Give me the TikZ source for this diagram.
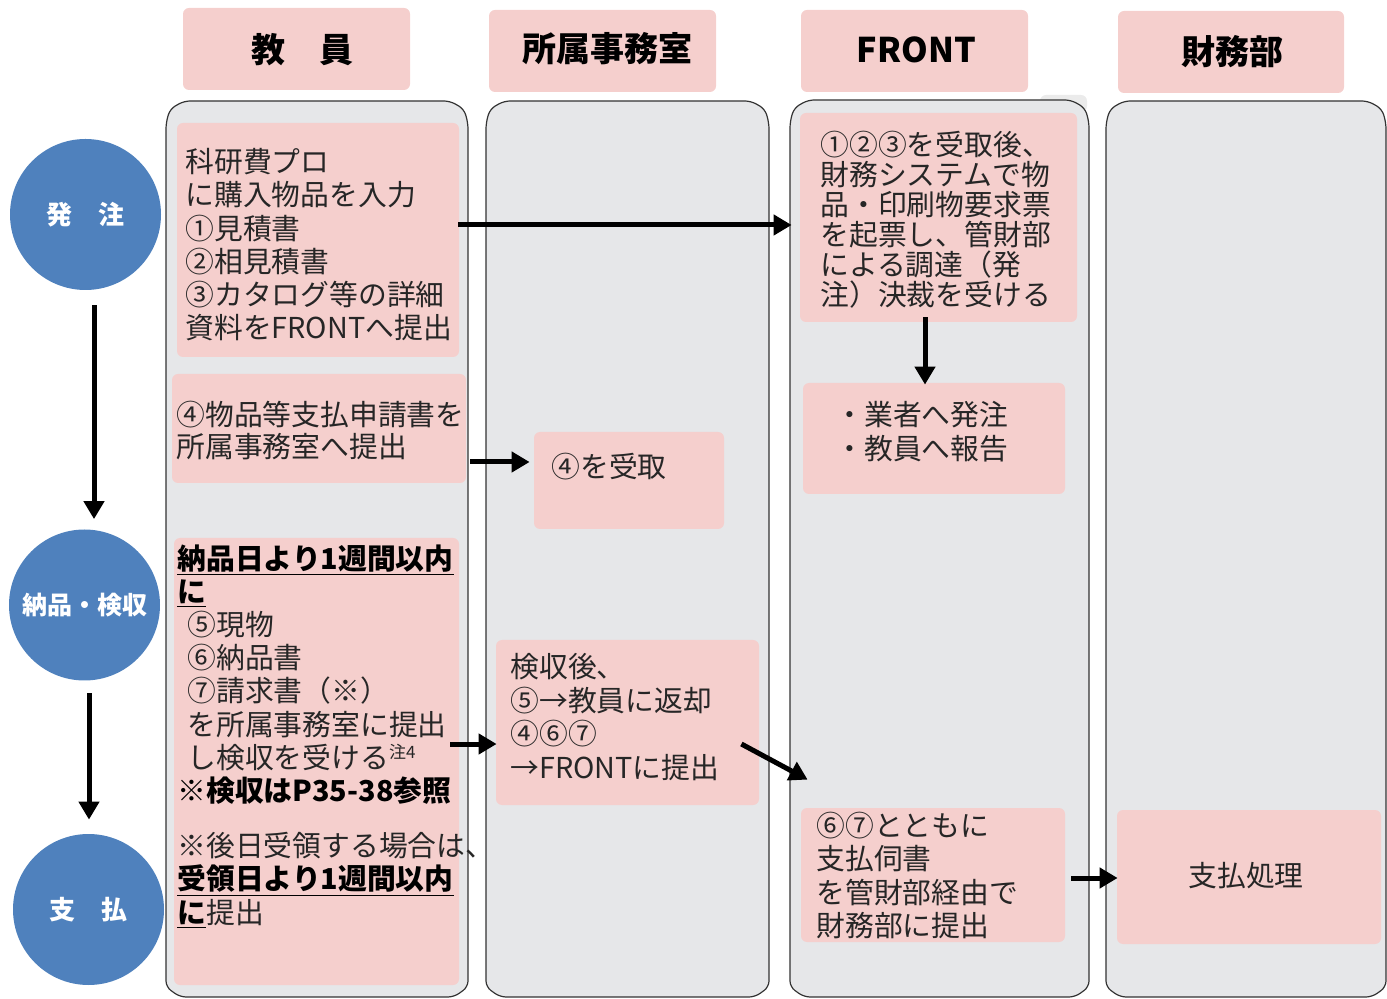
\documentclass[tikz,border=0pt]{standalone}
\usepackage{fontspec}
\setmainfont{Noto Sans CJK JP}
\usetikzlibrary{arrows.meta,calc,fit}
\definecolor{pinkfill}{HTML}{F5CFCD}
\definecolor{lanegray}{HTML}{E6E7E9}
\definecolor{circblue}{HTML}{4F81BD}
\definecolor{txtcol}{HTML}{262626}
\lineskiplimit=-20pt
\newcommand\mylane[4]{%
  \path[lanestyle] ({#1},{#4-10}) -- ({#1},{#2+22}) -- ({#1+4},{#2+8}) -- ({#1+18},{#2}) -- ({#3-18},{#2}) -- ({#3-4},{#2+8}) -- ({#3},{#2+22}) -- ({#3},{#4-10}) -- ({#3-14},{#4}) -- ({#1+14},{#4}) -- cycle;}
\begin{document}
\begin{tikzpicture}[x=0.5pt,y=-0.5pt,
  lanestyle/.style={fill=lanegray, draw=black!80, line width=0.6pt, rounded corners=3pt},
  pbox/.style={fill=pinkfill, rounded corners=3pt, inner sep=0pt, draw=none},
  hdrtxt/.style={inner sep=0pt, font=\fontsize{17}{20}\bfseries\selectfont, text=black},
  circ/.style={circle, fill=circblue, minimum size=75.5pt, inner sep=0pt, text=white, font=\fontsize{13}{15}\bfseries\selectfont},
  body/.style={anchor=north west, inner sep=0pt, align=left, text=txtcol, font=\fontsize{14.4}{16.6}\selectfont},
  arr/.style={line width=2.5pt, draw=black, -{Triangle[length=9pt,width=10pt]}}]
\useasboundingbox (0,0) rectangle (1387,999);

% headers
\node[pbox, fit={(183,8) (410,90)}] (H1) {};
\node[pbox, fit={(489,10) (716,92)}] (H2) {};
\node[pbox, fit={(801,10) (1028,92)}] (H3) {};
\node[pbox, fit={(1118,11) (1344,93)}] (H4) {};
\node[hdrtxt] (H1t) at ($(H1.center)+(6,1)$) {教　員};
\node[hdrtxt] (H2t) at ($(H2.center)+(5,-2)$) {所属事務室};
\node[hdrtxt] (H3t) at ($(H3.center)+(2,-1)$) {FRONT};
\node[hdrtxt] (H4t) at ($(H4.center)+(1,0)$) {財務部};

% lanes
\fill[black!8, rounded corners=3pt] (1040,95) rectangle (1087,112);
\mylane{166}{101}{468}{997}
\mylane{486}{101}{769}{997}
\mylane{790}{100}{1089}{997}
\mylane{1106}{101}{1386}{997}

% phase circles
\node[circ] (c1) at (85.5,214.5) {発　注};
\node[circ, font=\fontsize{12.5}{15}\bfseries\selectfont] (c2) at (84.5,605) {納品・検収};
\node[circ] (c3) at (88.5,909.5) {支　払};

% pink boxes
\node[pbox, fit={(177,123) (459,357)}] (A1) {};
\node[pbox, fit={(172,374) (466,483)}] (A2) {};
\node[pbox, fit={(174,538) (459,985)}] (A3) {};
\node[pbox, fit={(534,432) (724,529)}] (B1) {};
\node[pbox, fit={(496,640) (759,805)}] (B2) {};
\node[pbox, fit={(800,113) (1077,322)}] (C1) {};
\node[pbox, fit={(803,383) (1065,494)}] (C2) {};
\node[pbox, fit={(801,808) (1065,942)}] (C3) {};
\node[pbox, fit={(1117,810) (1381,944)}] (D1) {};

% texts
\node[body] (A1t) at (185,148) {科研費プロ\\に購入物品を入力\\①見積書\\②相見積書\\③カタログ等の詳細\\資料をFRONTへ提出};
\node[body, font=\fontsize{14.4}{16}\selectfont] (A2t) at (176,401) {④物品等支払申請書を\\所属事務室へ提出};
\node[body] (A3t) at (177,544) {\textcolor{black}{\underline{\textbf{納品日より1週間以内}}}\\\textcolor{black}{\underline{\textbf{に}}}\\\hspace{5pt}⑤現物\\\hspace{5pt}⑥納品書\\\hspace{5pt}⑦請求書（※）\\\hspace{5pt}を所属事務室に提出\\\hspace{5pt}し検収を受ける\raisebox{5pt}{\fontsize{8.5}{9}\selectfont 注4}\\\textcolor{black}{\textbf{※検収はP35-38参照}}};
\node[body] (A3u) at (177,832) {※後日受領する場合は、\\\textcolor{black}{\underline{\textbf{受領日より1週間以内}}}\\\textcolor{black}{\underline{\textbf{に}}}提出};
\node[body] (B1t) at (551,453) {④を受取};
\node[body, font=\fontsize{14.4}{16.8}\selectfont] (B2t) at (510,653) {検収後、\\⑤→教員に返却\\④⑥⑦\\→FRONTに提出};
\node[body, font=\fontsize{14.4}{15}\selectfont] (C1t) at (820,131) {①②③を受取後、\\財務システムで物\\品・印刷物要求票\\を起票し、管財部\\による調達（発\\注）決裁を受ける};
\node[body, font=\fontsize{14.4}{17}\selectfont] (C2t) at (835,401) {・業者へ発注\\・教員へ報告};
\node[body] (C3t) at (816,812) {⑥⑦とともに\\支払伺書\\を管財部経由で\\財務部に提出};
\node[inner sep=0pt, text=txtcol, font=\fontsize{14.4}{16.6}\selectfont] (D1t) at ($(D1.center)+(-3,-1)$) {支払処理};

% connectors
\draw[arr] ($(c1.south)+(8.5,15)$) -- ($(c2.north)+(9.5,-10)$);
\draw[arr] ($(c2.south)+(4.5,12.5)$) -- ($(c3.north)+(0.5,-14)$);
\draw[arr] ($(A1.east)+(-1,-15)$) -- ($(C1.west)+(-8,7.5)$);
\draw[arr] ($(C1.south)+(-13.5,-5)$) -- ($(C2.north)+(-9,2)$);
\draw[arr] ($(A2.east)+(4,33.5)$) -- ($(B1.west)+(-4,-18.5)$);
\draw[arr] ($(A3.east)+(-9,-17.5)$) -- ($(B2.west)+(1,21.5)$);
\draw[arr] ($(B2.east)+(-18,21.5)$) -- ($(C3.north west)+(7,-28)$);
\draw[arr] ($(C3.east)+(6,3)$) -- ($(D1.west)+(1,1)$);
\end{tikzpicture}
\end{document}
